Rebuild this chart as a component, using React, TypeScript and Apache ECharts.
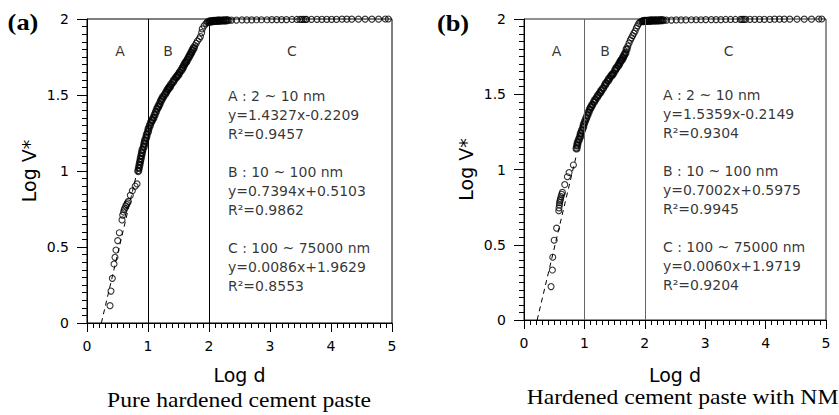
import React, { useEffect, useRef } from "react";
import * as echarts from "echarts";

// ---------- Data ----------
// (a) Pure hardened cement paste: [log d, log V*]
const pureRegionA: number[][] = [
  [0.377, 0.114], [0.393, 0.21], [0.415, 0.294], [0.443, 0.388], [0.459, 0.432],
  [0.475, 0.48], [0.503, 0.542], [0.53, 0.594], [0.574, 0.678], [0.585, 0.71],
  [0.6, 0.73], [0.61, 0.745], [0.62, 0.755], [0.635, 0.77], [0.65, 0.78],
  [0.665, 0.79], [0.678, 0.8], [0.71, 0.84], [0.743, 0.87], [0.79, 0.9], [0.82, 0.915],
];
// dense (packed) part of the curve
const pureDense: number[][] = [
  [0.84, 1.0], [0.85, 1.02], [0.86, 1.04], [0.87, 1.06], [0.88, 1.08], [0.89, 1.1],
  [0.9, 1.12], [0.91, 1.14], [0.93, 1.16], [0.94, 1.18], [0.95, 1.2], [0.97, 1.22],
  [0.98, 1.24], [1.0, 1.26], [1.01, 1.28], [1.03, 1.3], [1.05, 1.32], [1.07, 1.335],
  [1.09, 1.35], [1.11, 1.37], [1.13, 1.39], [1.15, 1.41], [1.17, 1.425], [1.19, 1.44],
  [1.21, 1.46], [1.23, 1.475], [1.25, 1.49], [1.28, 1.505], [1.3, 1.52], [1.32, 1.535],
  [1.34, 1.545], [1.36, 1.555], [1.38, 1.57], [1.41, 1.585], [1.43, 1.6], [1.46, 1.615],
  [1.48, 1.625], [1.5, 1.635], [1.52, 1.65], [1.55, 1.665], [1.57, 1.68], [1.59, 1.695],
  [1.61, 1.71], [1.63, 1.72], [1.65, 1.735], [1.67, 1.75], [1.69, 1.765], [1.71, 1.78],
  [1.73, 1.795], [1.75, 1.81],
  [2.0, 1.983], [2.02, 1.984], [2.04, 1.985], [2.06, 1.986], [2.08, 1.987], [2.1, 1.988],
  [2.12, 1.988], [2.14, 1.989], [2.16, 1.989], [2.18, 1.99], [2.21, 1.99], [2.24, 1.991],
  [2.27, 1.991], [2.3, 1.992],
];
// sparse (separate circles) part of the curve
const pureSparse: number[][] = [
  [1.77, 1.825], [1.79, 1.84], [1.81, 1.855], [1.84, 1.87], [1.86, 1.885], [1.88, 1.91],
  [1.89, 1.935], [1.92, 1.955], [1.95, 1.97], [1.97, 1.978],
  [2.33, 1.992], [2.37, 1.993], [2.45, 1.993], [2.54, 1.994],
  [2.62, 1.994], [2.7, 1.994], [2.78, 1.995], [2.86, 1.995], [2.95, 1.995], [3.03, 1.996],
  [3.11, 1.996], [3.19, 1.996], [3.27, 1.996], [3.36, 1.997], [3.44, 1.997], [3.49, 1.997],
  [3.52, 1.997], [3.55, 1.997], [3.58, 1.997], [3.6, 1.997], [3.68, 1.998], [3.77, 1.998],
  [3.85, 1.998], [3.93, 1.998], [4.01, 1.998], [4.09, 1.998], [4.18, 1.999], [4.26, 1.999],
  [4.34, 1.999], [4.45, 1.999], [4.56, 1.999], [4.67, 1.999], [4.78, 1.999], [4.89, 2.0],
  [4.94, 2.0],
];
const pureFitA: number[][] = [[0.235, 0], [0.83, 1.01]];
const pureEquations: string[] = [
  "A : 2 ~ 10 nm", "y=1.4327x-0.2209", "R²=0.9457", "",
  "B : 10 ~ 100 nm", "y=0.7394x+0.5103", "R²=0.9862", "",
  "C : 100 ~ 75000 nm", "y=0.0086x+1.9629", "R²=0.8553",
];

// (b) Hardened cement paste with NM
const nmRegionA: number[][] = [
  [0.448, 0.222], [0.47, 0.332], [0.476, 0.417], [0.5, 0.53], [0.54, 0.61],
  [0.576, 0.726], [0.58, 0.745], [0.586, 0.764], [0.59, 0.78], [0.597, 0.793],
  [0.605, 0.805], [0.614, 0.82], [0.625, 0.835], [0.636, 0.848], [0.675, 0.9],
  [0.718, 0.952], [0.746, 0.98], [0.818, 1.03],
];
const nmDense: number[][] = [
  [0.87, 1.14], [0.88, 1.16], [0.89, 1.18], [0.91, 1.2], [0.93, 1.22], [0.94, 1.24],
  [0.96, 1.26], [0.98, 1.28], [0.99, 1.3], [1.01, 1.32], [1.03, 1.34], [1.05, 1.36],
  [1.07, 1.38], [1.09, 1.4], [1.11, 1.415], [1.13, 1.43], [1.16, 1.45], [1.18, 1.465],
  [1.21, 1.48], [1.23, 1.495], [1.26, 1.51], [1.28, 1.525], [1.31, 1.54], [1.34, 1.56],
  [1.36, 1.575], [1.39, 1.59], [1.41, 1.605], [1.44, 1.62], [1.46, 1.63], [1.48, 1.64],
  [1.51, 1.66], [1.53, 1.675], [1.56, 1.69], [1.58, 1.705], [1.6, 1.72], [1.62, 1.73],
  [1.64, 1.745], [1.66, 1.76], [1.68, 1.775], [1.7, 1.8],
  [1.97, 1.986], [1.99, 1.987], [2.01, 1.987], [2.03, 1.988], [2.05, 1.988], [2.07, 1.989],
  [2.09, 1.989], [2.11, 1.99], [2.14, 1.99], [2.17, 1.99], [2.2, 1.991], [2.23, 1.991],
  [2.26, 1.992], [2.29, 1.992],
];
const nmSparse: number[][] = [
  [1.72, 1.82], [1.74, 1.84], [1.76, 1.86], [1.78, 1.875], [1.8, 1.89], [1.82, 1.905],
  [1.84, 1.92], [1.86, 1.94], [1.88, 1.955], [1.9, 1.97], [1.92, 1.98], [1.95, 1.985],
  [2.32, 1.992], [2.36, 1.993], [2.44, 1.993], [2.52, 1.994],
  [2.6, 1.994], [2.68, 1.994], [2.77, 1.995], [2.85, 1.995], [2.93, 1.995], [3.01, 1.996],
  [3.1, 1.996], [3.18, 1.996], [3.26, 1.996], [3.34, 1.997], [3.42, 1.997], [3.5, 1.997],
  [3.58, 1.997], [3.61, 1.997], [3.64, 1.997], [3.67, 1.998], [3.74, 1.998], [3.82, 1.998],
  [3.9, 1.998], [3.98, 1.998], [4.07, 1.998], [4.15, 1.999], [4.23, 1.999], [4.31, 1.999],
  [4.4, 1.999], [4.52, 1.999], [4.64, 1.999], [4.76, 1.999], [4.88, 2.0], [4.93, 2.0],
];
const nmFitA: number[][] = [[0.218, 0], [0.87, 1.1]];
const nmEquations: string[] = [
  "A : 2 ~ 10 nm", "y=1.5359x-0.2149", "R²=0.9304", "",
  "B : 10 ~ 100 nm", "y=0.7002x+0.5975", "R²=0.9945", "",
  "C : 100 ~ 75000 nm", "y=0.0060x+1.9719", "R²=0.9204",
];

const regionNames = ["A", "B", "C"];
const regionBoundaries = [1, 2];
const panelLetters = ["(a)", "(b)"];
const captions = ["Pure hardened cement paste", "Hardened cement paste with NM"];

const SANS = "DejaVu Sans";
const SERIF = "Liberation Serif";

function makeXAxis(gridIndex: number, nameGap: number) {
  return {
    gridIndex,
    type: "value",
    min: 0,
    max: 5,
    interval: 1,
    name: "Log d",
    nameLocation: "middle",
    nameGap,
    nameTextStyle: { fontFamily: SANS, fontSize: 19, color: "#000" },
    axisLine: { show: true, lineStyle: { color: "#000", width: 1 } },
    axisTick: { show: true, length: 9, lineStyle: { color: "#000", width: 1 } },
    minorTick: { show: true, splitNumber: 10, length: 5, lineStyle: { color: "#000", width: 1 } },
    splitLine: { show: false },
    minorSplitLine: { show: false },
    axisLabel: { fontFamily: SANS, fontSize: 14, color: "#000", margin: 16 },
  };
}

function makeYAxis(gridIndex: number) {
  return {
    gridIndex,
    type: "value",
    min: 0,
    max: 2,
    interval: 0.5,
    name: "Log V*",
    nameLocation: "middle",
    nameGap: 49,
    nameRotate: 90,
    nameTextStyle: { fontFamily: SANS, fontSize: 19, color: "#000" },
    axisLine: { show: true, lineStyle: { color: "#000", width: 1 } },
    axisTick: { show: true, length: 10, lineStyle: { color: "#000", width: 1 } },
    minorTick: { show: true, splitNumber: 10, length: 5, lineStyle: { color: "#000", width: 1 } },
    splitLine: { show: false },
    minorSplitLine: { show: false },
    axisLabel: { fontFamily: SANS, fontSize: 14, color: "#000", margin: 18 },
  };
}

function panelSeries(
  idx: number,
  sparse: number[][],
  dense: number[][],
  fit: number[][],
  equations: string[],
  labelPos: number[][],
  eqPos: number[],
  boundaryColor: string
) {
  return [
    {
      type: "scatter",
      xAxisIndex: idx,
      yAxisIndex: idx,
      data: sparse,
      symbol: "circle",
      symbolSize: 6,
      clip: false,
      silent: true,
      itemStyle: { color: "rgba(0,0,0,0)", borderColor: "#000", borderWidth: 1.1 },
      markLine: {
        silent: true,
        symbol: "none",
        label: { show: false },
        lineStyle: { type: "solid", color: boundaryColor, width: 1 },
        data: regionBoundaries.map((b) => ({ xAxis: b })),
      },
    },
    {
      type: "scatter",
      xAxisIndex: idx,
      yAxisIndex: idx,
      data: dense,
      symbol: "circle",
      symbolSize: 6,
      clip: false,
      silent: true,
      itemStyle: { color: "rgba(0,0,0,0)", borderColor: "#000", borderWidth: 2.2 },
    },
    {
      type: "line",
      xAxisIndex: idx,
      yAxisIndex: idx,
      data: fit,
      symbol: "none",
      silent: true,
      lineStyle: { color: "#000", width: 1, type: [5, 4] },
    },
    {
      type: "scatter",
      xAxisIndex: idx,
      yAxisIndex: idx,
      symbolSize: 0,
      silent: true,
      data: regionNames.map((n, i) => ({ name: n, value: labelPos[i] })),
      label: {
        show: true,
        position: "inside",
        formatter: "{b}",
        fontFamily: SANS,
        fontSize: 14,
        color: "#000",
      },
    },
    {
      type: "scatter",
      xAxisIndex: idx,
      yAxisIndex: idx,
      symbolSize: 0,
      silent: true,
      data: [{ name: "eq", value: eqPos }],
      label: {
        show: true,
        position: [0, 0],
        align: "left",
        verticalAlign: "middle",
        formatter: equations.join("\n"),
        fontFamily: SANS,
        fontSize: 14,
        lineHeight: 19,
        color: "#000",
      },
    },
  ];
}

export default function App() {
  const ref = useRef<HTMLDivElement>(null);

  useEffect(() => {
    if (!ref.current) return;
    const chart = echarts.init(ref.current, undefined, { renderer: "svg" });

    const option: any = {
      animation: false,
      backgroundColor: "#fff",
      grid: [
        { left: 87, top: 19, width: 305, height: 304, show: true, borderColor: "#000", borderWidth: 1, backgroundColor: "transparent" },
        { left: 524, top: 19, width: 302, height: 301, show: true, borderColor: "#222", borderWidth: 1, backgroundColor: "transparent" },
      ],
      xAxis: [makeXAxis(0, 42), makeXAxis(1, 45)],
      yAxis: [makeYAxis(0), makeYAxis(1)],
      series: [
        ...panelSeries(
          0,
          [...pureRegionA, ...pureSparse],
          pureDense,
          pureFitA,
          pureEquations,
          [[0.54, 1.79], [1.33, 1.79], [3.36, 1.79]],
          [2.31, 0.87],
          "#000"
        ),
        ...panelSeries(
          1,
          [...nmRegionA, ...nmSparse],
          nmDense,
          nmFitA,
          nmEquations,
          [[0.54, 1.787], [1.34, 1.787], [3.39, 1.787]],
          [2.3, 0.864],
          "#666"
        ),
      ],
      graphic: [
        {
          type: "text",
          x: 239,
          y: 401,
          scaleX: 1.18,
          style: { text: captions[0], font: `20px "${SERIF}"`, fill: "#000", align: "center", verticalAlign: "middle", textAlign: "center", textVerticalAlign: "middle" },
        },
        {
          type: "text",
          x: 682.5,
          y: 398,
          scaleX: 1.18,
          style: { text: captions[1], font: `20px "${SERIF}"`, fill: "#000", align: "center", verticalAlign: "middle", textAlign: "center", textVerticalAlign: "middle" },
        },
        {
          type: "text",
          x: 23,
          y: 22,
          scaleX: 1.1,
          style: { text: panelLetters[0], font: `bold 24px "${SERIF}"`, fill: "#000", align: "center", verticalAlign: "middle", textAlign: "center", textVerticalAlign: "middle" },
        },
        {
          type: "text",
          x: 453,
          y: 23,
          scaleX: 1.1,
          style: { text: panelLetters[1], font: `bold 24px "${SERIF}"`, fill: "#000", align: "center", verticalAlign: "middle", textAlign: "center", textVerticalAlign: "middle" },
        },
      ],
    };

    chart.setOption(option);
    return () => chart.dispose();
  }, []);

  return (
    <div
      ref={ref}
      style={{ position: "fixed", left: 0, top: 0, width: 839, height: 415, background: "#fff" }}
    />
  );
}
